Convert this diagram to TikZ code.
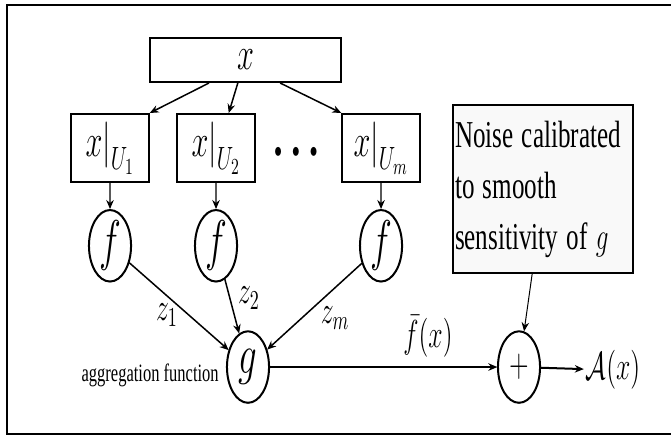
\RequirePackage{fix-cm}
\documentclass[tikz,border=0pt]{standalone}
\usepackage[no-math]{fontspec}
\setmainfont{Liberation Serif}
\usepackage{tikz}
\usetikzlibrary{arrows.meta, positioning, shapes.geometric, calc}

\begin{document}
\begin{tikzpicture}[
		x=0.606pt, y=-0.4pt, xscale=0.66, transform shape,
		node distance=10.4pt,
		box/.style={
			draw,
			line width=0.8pt,
			minimum width=47.3pt,
			minimum height=27.2pt,
			inner sep=0pt,
			font=\fontsize{18.4}{22}\selectfont
		},
		fnode/.style={
			draw,
			ellipse,
			line width=0.8pt,
			minimum width=25.5pt,
			minimum height=28.6pt,
			inner sep=0pt,
			font=\fontsize{22.4}{26}\selectfont
		},
		lbl/.style={inner sep=1pt, font=\fontsize{15.6}{18}\selectfont},
		arrow/.style={-{Stealth[length=3.6pt, width=3pt]}, line width=0.6pt}
		]
		\useasboundingbox (0,0) rectangle (671,436);
		
		% frame
		\draw[line width=0.8pt] (671,4.5) -- (7,4.5) -- (7,434) -- (671,434);
		
		\node[box, minimum width=115.8pt, minimum height=17.6pt] (xin) at (245.5,60) {$x$};
		\node[box] (u1) at (110,148) {$x\Big|_{U_1}$};
		\node[box] (u2) at (216,148) {$x\Big|_{U_2}$};
		\node[box] (um) at (381,148) {$x\Big|_{U_m}$};
		\node[font=\fontsize{9}{10}\selectfont] (dots) at (296,152) {$\bullet\hspace{0.45em}\bullet\hspace{0.45em}\bullet$};
		
		\node[fnode, below=of u1] (f1) {$f$};
		\node[fnode, below=of u2] (f2) {$f$};
		\node[fnode, below=of um] (fm) {$f$};
		\node[fnode] (g) at (248,367) {$g$};
		\node[fnode, font=\fontsize{15.6}{18}\selectfont] (plus) at (519,367) {$+$};
		
		\node[anchor=base east, inner sep=0pt, font=\fontsize{10}{12}\selectfont] (agg) at (219,381) {aggregation function};
		\node[draw, fill=gray!5, line width=0.8pt, minimum width=109.1pt, minimum height=67.2pt,
			text width=106.6pt, inner xsep=1.2pt, align=left,
			font=\fontsize{15.2}{20.4}\selectfont] (noise) at (543,189) {Noise calibrated\\to smooth\\sensitivity of $g$};
		\node[lbl] (aout) at (613,370) {$\mathcal{A}(x)$};
		
		\node[lbl] (z1) at (167,315) {$z_1$};
		\node[lbl] (z2) at (249,298) {$z_2$};
		\node[lbl] (zm) at (335,318) {$z_m$};
		\node[lbl] (fbar) at (428,336) {$\bar{f}(x)$};
		
		\draw[arrow] ($(xin.south west)!0.31!(xin.south east)$) -- (u1.north east);
		\draw[arrow] ($(xin.south west)!0.46!(xin.south east)$) -- ($(u2.north west)!0.66!(u2.north east)$);
		\draw[arrow] ($(xin.south west)!0.68!(xin.south east)$) -- (um.north west);
		
		\draw[arrow, line width=0.45pt] (u1) -- (f1);
		\draw[arrow, line width=0.45pt] (u2) -- (f2);
		\draw[arrow, line width=0.45pt] (um) -- (fm);
		
		\draw[arrow] (f1) -- (g);
		\draw[arrow] (f2) -- (g);
		\draw[arrow] (fm) -- (g);
		
		\draw[arrow, line width=0.8pt] (g) -- (plus);
		\draw[arrow, line width=0.8pt] (plus) -- (aout);
		\draw[arrow, line width=0.4pt] ($(noise.south west)!0.44!(noise.south east)$) -- (plus);
		
	\end{tikzpicture}
\end{document}
